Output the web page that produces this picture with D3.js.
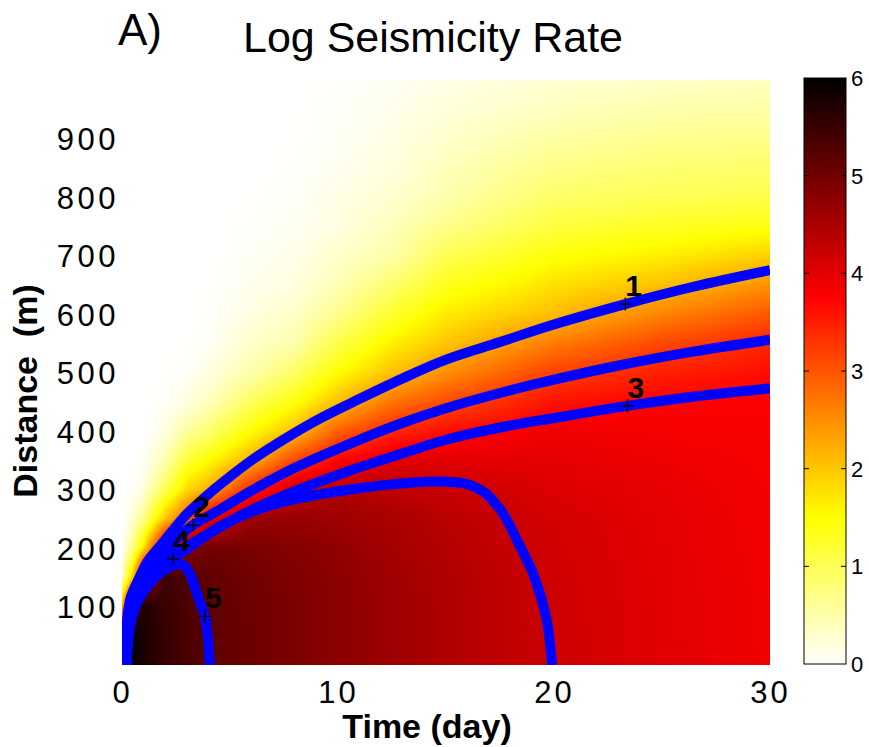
<!DOCTYPE html>
<html>
<head>
<meta charset="utf-8">
<script src="https://cdn.jsdelivr.net/npm/d3@7"></script>
<style>
  body { margin: 0; background: #fff; }
  svg { display: block; }
</style>
</head>
<body>
<svg id="chart" width="869" height="747"></svg>
<script>
// ---- Data -----------------------------------------------------------------
// Sample times (day) of the log seismicity-rate field
const timeGrid = [0, 0.5, 1, 2, 3, 4, 6, 8, 10, 12.5, 15, 20, 25, 30];
// Sample distances (m)
const distanceGrid = [0, 50, 100, 150, 200, 250, 300, 350, 400, 450, 500,
                      550, 600, 650, 700, 750, 800, 850, 900, 950, 1000];
// Log seismicity rate: one row per time, one value per distance
const logRate = [
  [6.00,5.30,2.20,0.35,0.01,0,0,0,0,0,0,0,0,0,0,0,0,0,0,0,0],
  [5.97,5.95,5.20,1.99,0.75,0.24,0.05,0,0,0,0,0,0,0,0,0,0,0,0,0,0],
  [5.78,5.78,5.72,4.53,1.78,0.70,0.20,0.05,0,0,0,0,0,0,0,0,0,0,0,0,0],
  [5.52,5.52,5.50,5.45,4.24,2.05,1.00,0.47,0.17,0.04,0.01,0,0,0,0,0,0,0,0,0,0],
  [5.34,5.34,5.33,5.30,4.79,2.97,1.82,1.16,0.56,0.17,0.04,0.01,0,0,0,0,0,0,0,0,0],
  [5.20,5.20,5.19,5.15,5.00,3.93,2.20,1.50,0.83,0.38,0.16,0.05,0.03,0.01,0,0,0,0,0,0,0],
  [5.03,5.03,5.02,5.00,4.92,4.66,3.45,2.20,1.50,0.95,0.50,0.31,0.17,0.10,0.05,0.03,0.01,0,0,0,0],
  [4.90,4.90,4.90,4.88,4.81,4.66,4.24,3.14,2.07,1.44,0.91,0.48,0.33,0.19,0.13,0.07,0.05,0.03,0.01,0.01,0],
  [4.77,4.77,4.77,4.76,4.72,4.60,4.43,3.73,2.89,2.06,1.50,1.08,0.67,0.43,0.30,0.19,0.14,0.09,0.05,0.04,0.02],
  [4.61,4.61,4.61,4.60,4.55,4.50,4.34,4.01,3.41,2.71,2.04,1.62,1.23,0.86,0.50,0.39,0.29,0.19,0.15,0.11,0.07],
  [4.46,4.46,4.46,4.45,4.41,4.36,4.24,4.00,3.63,3.08,2.49,2.01,1.67,1.33,1.00,0.69,0.47,0.39,0.30,0.21,0.14],
  [4.19,4.19,4.18,4.17,4.15,4.13,4.05,3.97,3.88,3.60,3.18,2.66,2.08,1.76,1.44,1.13,0.89,0.71,0.54,0.38,0.26],
  [4.01,4.01,4.00,4.00,3.99,3.98,3.96,3.89,3.82,3.75,3.48,3.12,2.59,2.05,1.63,1.29,1.00,0.83,0.65,0.48,0.32],
  [3.88,3.87,3.87,3.86,3.85,3.84,3.83,3.82,3.79,3.76,3.64,3.43,2.99,2.47,1.91,1.40,1.07,0.87,0.69,0.52,0.38]
];

// Front curves, [time (day), distance (m)]
const curve1 = [[0.2,0],[0.21,40],[0.25,80],[0.4,115],[0.75,145],[1.2,178],[1.8,205],[2.4,232],[3,258],[4,292],[5,322],[6,350],[7.6,388],[9.2,422],[11,455],[13,490],[15,522],[17.5,552],[19.8,580],[23.3,617],[26.5,647],[30,675]];
const curve2 = [[0.2,0],[0.22,40],[0.27,80],[0.45,112],[0.8,140],[1.3,165],[2,195],[2.6,218],[3.29,239],[4.5,265],[6,298],[8,337],[10.6,379],[13,414],[15,439],[17.5,465],[19.8,486],[23,512],[26.5,536],[30,556]];
const curve3 = [[0.2,0],[0.23,40],[0.3,80],[0.5,108],[0.9,135],[1.5,160],[2.2,183],[3.2,207],[4.5,235],[6,265],[8,297],[10.6,333],[13,362],[15,385],[17.5,406],[19.8,421],[23.4,443],[26.5,459],[30,473]];
const curve4 = [[0.2,0],[0.24,40],[0.32,80],[0.55,108],[1.0,135],[1.6,158],[2.36,181],[3,198],[4.5,236],[6,262],[7.6,280],[9.2,292],[10.6,300],[12,307],[13.5,312],[14.5,313.5],[15.2,313],[15.9,310],[16.4,303],[16.81,294],[17.22,279],[17.59,262],[17.96,238],[18.33,210],[18.66,186],[18.98,161],[19.26,132],[19.49,104],[19.68,74],[19.81,39],[19.91,0]];
const curve5 = [[0.2,0],[0.28,35],[0.37,65],[0.55,92],[0.79,113],[1.2,135],[1.62,152],[2.1,165],[2.6,172],[2.9,169],[3.15,155],[3.36,134],[3.6,108],[3.84,83],[3.98,45],[4.06,0]];
const curves = [curve1, curve2, curve3, curve4, curve5];

// Numbered markers placed on the curves
const curveLabels = ["1", "2", "3", "4", "5"];
const labelTimes = [23.3, 3.29, 23.4, 2.36, 3.84];
const labelDistances = [617, 239, 443, 181, 83];

// Tick labels
const timeTicks = [0, 10, 20, 30];
const distanceTicks = [100, 200, 300, 400, 500, 600, 700, 800, 900];
const colorTicks = [0, 1, 2, 3, 4, 5, 6];

// ---- Layout -----------------------------------------------------------------
const FONT = "'Liberation Sans', Arial, Helvetica, sans-serif";
const plot = { left: 122, right: 770, top: 80, bottom: 665 };
const bar = { left: 804, right: 846, top: 78, bottom: 664 };

const svg = d3.select("#chart");
const x = d3.scaleLinear().domain([0, 30]).range([plot.left, plot.right]);
const y = d3.scaleLinear().domain([0, 1000]).range([plot.bottom, plot.top]);
const cScale = d3.scaleLinear().domain([0, 6]).range([bar.bottom, bar.top]);

// Reversed "hot" colormap: 0 -> white, 1.5 -> yellow, 3.75 -> red, 6 -> black
function hotReversed(v) {
  const s = 1 - Math.max(0, Math.min(6, v)) / 6;
  const c = u => Math.max(0, Math.min(1, u));
  return [255 * c(s / 0.375), 255 * c((s - 0.375) / 0.375), 255 * c((s - 0.75) / 0.25)];
}

// Bilinear lookup of the sampled field
function field(t, r) {
  let i = d3.bisectRight(timeGrid, t) - 1;
  i = Math.max(0, Math.min(timeGrid.length - 2, i));
  let j = d3.bisectRight(distanceGrid, r) - 1;
  j = Math.max(0, Math.min(distanceGrid.length - 2, j));
  const ft = Math.max(0, Math.min(1, (t - timeGrid[i]) / (timeGrid[i + 1] - timeGrid[i])));
  const fr = Math.max(0, Math.min(1, (r - distanceGrid[j]) / (distanceGrid[j + 1] - distanceGrid[j])));
  const a = logRate[i][j], b = logRate[i + 1][j], c = logRate[i][j + 1], d = logRate[i + 1][j + 1];
  return a * (1 - ft) * (1 - fr) + b * ft * (1 - fr) + c * (1 - ft) * fr + d * ft * fr;
}

// ---- Heat map ---------------------------------------------------------------
const pw = plot.right - plot.left, ph = plot.bottom - plot.top;
const canvas = document.createElement("canvas");
canvas.width = pw; canvas.height = ph;
const ctx = canvas.getContext("2d");
const img = ctx.createImageData(pw, ph);
for (let py = 0; py < ph; py++) {
  const r = y.invert(plot.top + py + 0.5);
  for (let px = 0; px < pw; px++) {
    const t = x.invert(plot.left + px + 0.5);
    const col = hotReversed(field(t, r));
    const k = (py * pw + px) * 4;
    img.data[k] = col[0]; img.data[k + 1] = col[1]; img.data[k + 2] = col[2]; img.data[k + 3] = 255;
  }
}
ctx.putImageData(img, 0, 0);
svg.append("image")
  .attr("x", plot.left).attr("y", plot.top)
  .attr("width", pw).attr("height", ph)
  .attr("preserveAspectRatio", "none")
  .attr("href", canvas.toDataURL());

// ---- Curves -----------------------------------------------------------------
svg.append("clipPath").attr("id", "plot-clip")
  .append("rect").attr("x", plot.left).attr("y", plot.top).attr("width", pw).attr("height", ph);

const line = d3.line().x(d => x(d[0])).y(d => y(d[1])).curve(d3.curveCatmullRom.alpha(0.5));
svg.append("g").attr("clip-path", "url(#plot-clip)")
  .selectAll("path").data(curves).join("path")
  .attr("d", line)
  .attr("fill", "none")
  .attr("stroke", "#0000ff")
  .attr("stroke-width", 10)
  .attr("stroke-linejoin", "round");

// Markers and numbers
const marks = svg.append("g");
curveLabels.forEach((lab, i) => {
  const cx = x(labelTimes[i]), cy = y(labelDistances[i]);
  marks.append("path")
    .attr("d", `M${cx - 6.5},${cy}H${cx + 6.5}M${cx},${cy - 6.5}V${cy + 6.5}`)
    .attr("stroke", "#000").attr("stroke-width", 1.3).attr("fill", "none");
  marks.append("text")
    .attr("x", cx).attr("y", cy - 8)
    .attr("font-family", FONT).attr("font-weight", "bold").attr("font-size", 30)
    .attr("fill", "#000")
    .text(lab);
});

// ---- Axes -------------------------------------------------------------------
const yAxis = svg.append("g")
  .attr("transform", `translate(${plot.left},0)`)
  .call(d3.axisLeft(y).tickValues(distanceTicks).tickSize(0).tickPadding(3));
yAxis.select(".domain").remove();
yAxis.selectAll("text")
  .attr("font-family", FONT).attr("font-size", 31).attr("fill", "#000")
  .attr("letter-spacing", 3.5).attr("dy", "0.36em");

const xAxis = svg.append("g")
  .attr("transform", `translate(0,${plot.bottom})`)
  .call(d3.axisBottom(x).tickValues(timeTicks).tickSize(0).tickPadding(16));
xAxis.select(".domain").remove();
xAxis.selectAll("text")
  .attr("font-family", FONT).attr("font-size", 31).attr("fill", "#000")
  .attr("letter-spacing", 3);

svg.append("text")
  .attr("x", 427).attr("y", 738)
  .attr("text-anchor", "middle")
  .attr("font-family", FONT).attr("font-weight", "bold").attr("font-size", 34)
  .text("Time (day)");

svg.append("text")
  .attr("transform", "translate(37,391) rotate(-90)")
  .attr("text-anchor", "middle")
  .attr("font-family", FONT).attr("font-weight", "bold").attr("font-size", 34)
  .style("white-space", "pre")
  .text("Distance  (m)");

// Title and panel letter
svg.append("text")
  .attr("x", 118).attr("y", 45)
  .attr("font-family", FONT).attr("font-size", 44)
  .text("A)");
svg.append("text")
  .attr("x", 433).attr("y", 52)
  .attr("text-anchor", "middle")
  .attr("font-family", FONT).attr("font-size", 43)
  .text("Log Seismicity Rate");

// ---- Colour bar -------------------------------------------------------------
const grad = svg.append("defs").append("linearGradient")
  .attr("id", "cbar").attr("x1", 0).attr("y1", 1).attr("x2", 0).attr("y2", 0);
d3.range(0, 6.0001, 0.125).forEach(v => {
  const c = hotReversed(v);
  grad.append("stop").attr("offset", v / 6)
    .attr("stop-color", `rgb(${c.map(Math.round).join(",")})`);
});
svg.append("rect")
  .attr("x", bar.left).attr("y", bar.top)
  .attr("width", bar.right - bar.left).attr("height", bar.bottom - bar.top)
  .attr("fill", "url(#cbar)")
  .attr("stroke", "#000").attr("stroke-width", 1);

const cb = svg.append("g");
colorTicks.filter(v => v > 0 && v < 6).forEach(v => {
  cb.append("path")
    .attr("d", `M${bar.left},${cScale(v)}h5M${bar.right},${cScale(v)}h-5`)
    .attr("stroke", "#000").attr("stroke-width", 1);
});
cb.selectAll("text").data(colorTicks).join("text")
  .attr("x", bar.right + 5).attr("y", d => cScale(d))
  .attr("dy", "0.36em")
  .attr("font-family", FONT).attr("font-size", 22).attr("fill", "#000")
  .text(d => d);
</script>
</body>
</html>
